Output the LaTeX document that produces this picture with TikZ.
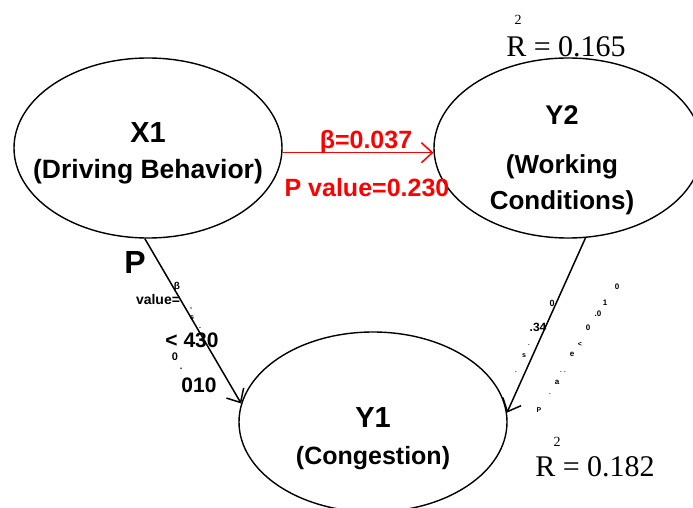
\documentclass[tikz,border=0pt]{standalone}
\usepackage{fontspec}
\setmainfont{Liberation Sans}
\newfontfamily\serifR{Liberation Serif}
\usetikzlibrary{shapes.geometric,arrows.meta}
\tikzset{
  latent/.style={ellipse, draw, line width=1.4pt, minimum width=268pt, minimum height=180pt, inner sep=0pt},
  lbl/.style={inner sep=0pt, font=\bfseries\fontsize{#1}{#1}\selectfont},
  lbl/.default=24,
  rsq/.style={inner sep=0pt, font=\serifR\fontsize{#1}{#1}\selectfont},
  arr/.style={line width=1.5pt, -{Straight Barb[length=11pt,width=20pt,line width=1.5pt]}},
  redarr/.style={arr, draw=red},
  tiny/.style={inner sep=0pt, font=\bfseries\fontsize{#1}{#1}\selectfont},
}
\begin{document}
\begin{tikzpicture}[x=1pt,y=-1pt]
\clip (0,0) rectangle (693,508);
% ellipses
\node[latent] (X1) at (148,148) {};
\node[latent] (Y2) at (568,148) {};
\node[latent] (Y1) at (373,422) {};
% texts in ellipses
\node[lbl=29] (tx1) at (148,133) {X1};
\node[lbl=26.5] (tx1b) at (148,172) {(Driving Behavior)};
\node[lbl=27] (ty2) at (562,115) {Y2};
\node[lbl=26] (ty2b) at (562,167) {(Working};
\node[lbl=26] (ty2c) at (562,203) {Conditions)};
\node[lbl=29] (ty1) at (373,418) {Y1};
\node[lbl=25] (ty1b) at (373,458) {(Congestion)};
% arrows
\draw[redarr] (X1.358) -- (Y2.182);
\draw[arr] (X1.268) -- (Y1.172);
\draw[arr] (Y2.281) -- (Y1.4);
% red labels
\node[lbl=25, text=red] (b1) at (366,142) {β=0.037};
\node[lbl=25, text=red] (p1) at (367,188) {P value=0.230};
% left path labels
\node[lbl=32] (lp) at (135,262) {P};
\node[tiny=10] (lb) at (177,287) {β};
\node[tiny=14] (lv) at (158,299) {value=};
\node[tiny=7] (ld1) at (191,310) {'};
\node[tiny=7] (ld2) at (192,318) {s};
\node[tiny=7] (ld3) at (200,328) {.};
\node[lbl=21] (l430) at (192,340) {< 430};
\node[tiny=11] (l0) at (175,357) {0};
\node[tiny=9] (ldot) at (181,369) {.};
\node[lbl=21] (l010) at (199,385) {010};
% right path labels
\node[tiny=8] (r1) at (617,287) {0};
\node[tiny=8] (r2) at (605,303) {1};
\node[tiny=8] (r3) at (598,314) {.0};
\node[tiny=8] (r4) at (588,328) {0};
\node[tiny=7] (r5) at (580,344) {<};
\node[tiny=8] (r6) at (572,354) {e};
\node[tiny=6] (r7) at (563,372) {. .};
\node[tiny=8] (r8) at (557,382) {a};
\node[tiny=6] (r9) at (550,394) {.};
\node[tiny=7] (r10) at (539,410) {P};
\node[tiny=9] (r11) at (552,303) {0};
\node[tiny=12] (r12) at (538,327) {.34};
\node[tiny=6] (r13) at (529,345) {.};
\node[tiny=7] (r14) at (524,356) {s};
\node[tiny=6] (r15) at (516,372) {.};
% R squared
\node[rsq=14] (s1) at (518,20) {2};
\node[rsq=30] (rs1) at (566,47) {R = 0.165};
\node[rsq=14] (s2) at (557,442) {2};
\node[rsq=30] (rs2) at (595,467) {R = 0.182};
\end{tikzpicture}
\end{document}
